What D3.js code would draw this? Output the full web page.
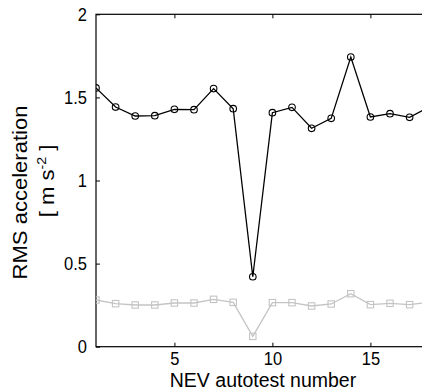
<!DOCTYPE html>
<html>
<head>
<meta charset="utf-8">
<script src="https://cdn.jsdelivr.net/npm/d3@7"></script>
<style>
  html, body { margin: 0; padding: 0; background: #fff; }
  svg { display: block; font-family: "Liberation Sans", Arial, Helvetica, sans-serif; }
  .tall { transform-box: fill-box; transform-origin: center; transform: scaleY(1.15); }
</style>
</head>
<body>
<svg id="chart" width="422" height="392"></svg>
<script>
const testNumbers = [1,2,3,4,5,6,7,8,9,10,11,12,13,14,15,16,17,18];
const rmsBlack = [1.557,1.442,1.388,1.390,1.428,1.426,1.553,1.432,0.421,1.408,1.440,1.314,1.374,1.743,1.382,1.402,1.380,1.442];
const rmsGray  = [0.281,0.259,0.251,0.251,0.263,0.263,0.285,0.267,0.062,0.265,0.265,0.245,0.257,0.319,0.253,0.261,0.253,0.267];
const xTicks = [5,10,15];
const yTicks = [0,0.5,1,1.5,2];
const yTickLabels = ["0","0.5","1","1.5","2"];

(function(){
const svg = d3.select("#chart");
const mLeft = 96, mTop = 14.3, mBottom = 346.7, mRight = 96 + 17*19.6;
const x = d3.scaleLinear().domain([1,18]).range([mLeft, mRight]);
const y = d3.scaleLinear().domain([0,2]).range([mBottom, mTop]);
const tickLen = 4;
const fs = 16.5;

const g = svg.append("g");
g.append("rect").attr("x", mLeft).attr("y", mTop).attr("width", mRight-mLeft).attr("height", mBottom-mTop)
  .attr("fill","none").attr("stroke","#000").attr("stroke-width",1.2);

const xAxis = d3.axisBottom(x).tickValues(xTicks).tickSizeInner(-tickLen).tickSizeOuter(0).tickPadding(6);
const gx = g.append("g").attr("transform",`translate(0,${mBottom})`).call(xAxis);
gx.select(".domain").remove();
gx.selectAll("text").attr("font-size", fs).attr("fill","#000").attr("font-family","Liberation Sans, Arial, sans-serif").attr("class","tall");
gx.selectAll("line").attr("stroke","#000");
const xAxisTop = d3.axisTop(x).tickValues(xTicks).tickSizeInner(-tickLen).tickSizeOuter(0).tickFormat("");
const gxt = g.append("g").attr("transform",`translate(0,${mTop})`).call(xAxisTop);
gxt.select(".domain").remove();
gxt.selectAll("line").attr("stroke","#000");

const yAxis = d3.axisLeft(y).tickValues(yTicks).tickFormat((d,i)=>yTickLabels[i]).tickSizeInner(-tickLen).tickSizeOuter(0).tickPadding(9);
const gy = g.append("g").attr("transform",`translate(${mLeft},0)`).call(yAxis);
gy.select(".domain").remove();
gy.selectAll("text").attr("font-size", fs).attr("fill","#000").attr("font-family","Liberation Sans, Arial, sans-serif").attr("class","tall");
gy.selectAll("line").attr("stroke","#000");

svg.append("defs").append("clipPath").attr("id","clip").append("rect")
  .attr("x", mLeft).attr("y", mTop-10).attr("width", mRight-mLeft+10).attr("height", mBottom-mTop+20);
const plot = svg.append("g").attr("clip-path","url(#clip)");

const line = d3.line().x((d,i)=>x(testNumbers[i])).y(d=>y(d));

plot.append("path").datum(rmsGray).attr("d", line).attr("fill","none").attr("stroke","#c4c4c4").attr("stroke-width",1.3);
plot.selectAll(".sq").data(rmsGray).enter().append("rect")
  .attr("x",(d,i)=>x(testNumbers[i])-3.2).attr("y",d=>y(d)-3.2).attr("width",6.4).attr("height",6.4)
  .attr("fill","none").attr("stroke","#c4c4c4").attr("stroke-width",1.1);

plot.append("path").datum(rmsBlack).attr("d", line).attr("fill","none").attr("stroke","#000").attr("stroke-width",1.3);
plot.selectAll(".ci").data(rmsBlack).enter().append("circle")
  .attr("cx",(d,i)=>x(testNumbers[i])).attr("cy",d=>y(d)).attr("r",3.3)
  .attr("fill","none").attr("stroke","#000").attr("stroke-width",1.1);

svg.append("text").attr("x", 263).attr("y", 387).attr("text-anchor","middle")
  .attr("font-size",19.5).text("NEV autotest number");

const yl = svg.append("text").attr("transform","translate(26.5,192.5) rotate(-90) scale(1.13,1)").attr("text-anchor","middle").attr("font-size",19.5);
yl.append("tspan").attr("x",0).attr("y",0).text("RMS acceleration");
const l2 = svg.append("text").attr("transform","translate(54,181) rotate(-90) scale(1.13,1)").attr("text-anchor","middle").attr("font-size",19.5);
l2.append("tspan").text("[ m s");
l2.append("tspan").attr("font-size",12.5).attr("dy",-8).text("-2");
l2.append("tspan").attr("dy",8).text(" ]");
})();
</script>
</body>
</html>
